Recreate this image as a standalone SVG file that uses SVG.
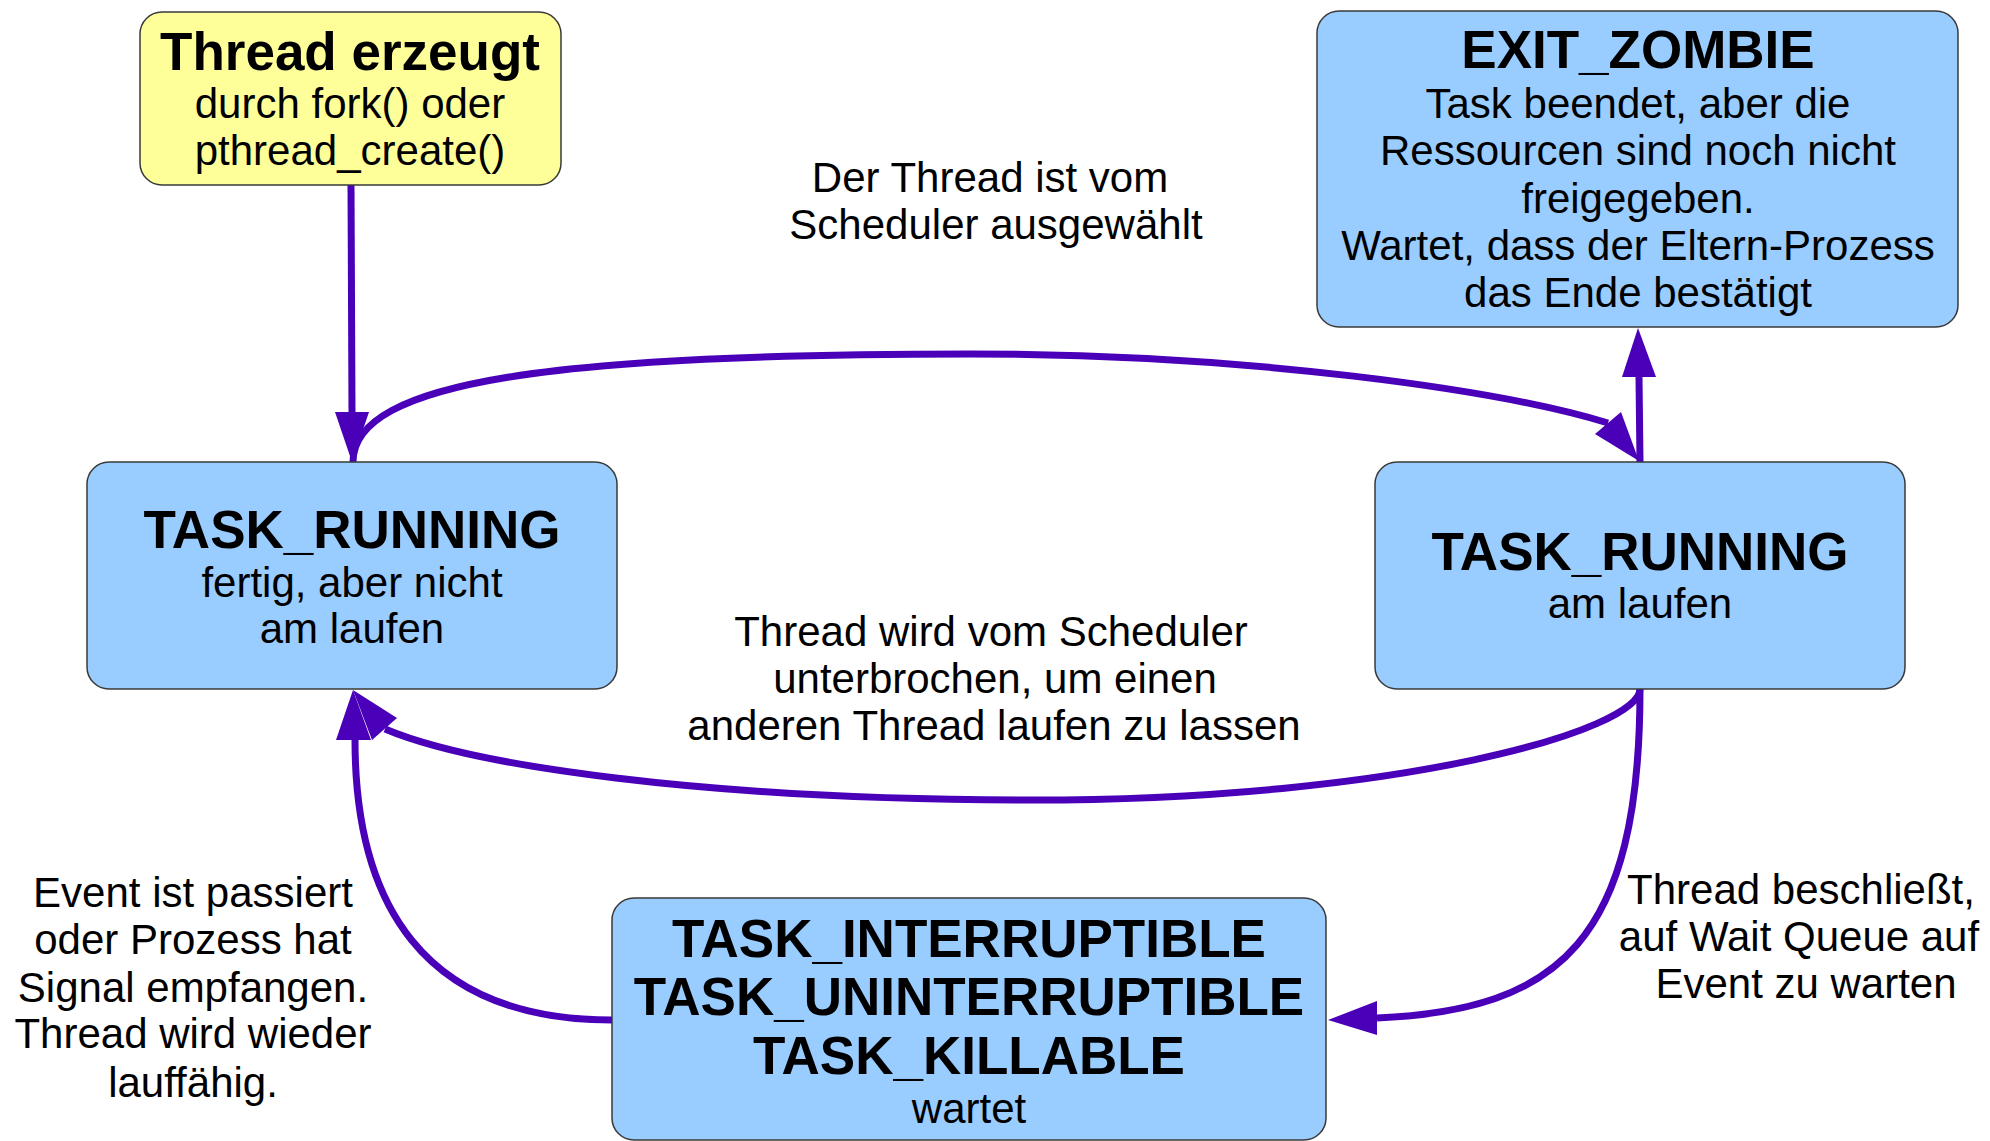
<svg xmlns="http://www.w3.org/2000/svg" width="1990" height="1141" viewBox="0 0 1990 1141">
<style>
.box{fill:#99ccff;stroke:#3a3a3a;stroke-width:1.5}
.yel{fill:#ffff99;stroke:#3a3a3a;stroke-width:1.5}
text{font-family:"Liberation Sans",Arial,sans-serif;fill:#000;text-anchor:middle}
.t{font-size:53px;font-weight:bold}
.r{font-size:42px}
.c{fill:none;stroke:#4a00b8;stroke-width:7}
.a{fill:#4a00b8;stroke:none}
</style>
<rect width="1990" height="1141" fill="#fff"/>
<g id="connectors">
<path class="c" d="M351 185 L352 412"/>
<polygon class="a" points="352,462 335,412 369,412"/>
<path class="c" d="M1640 462 L1639 377"/>
<polygon class="a" points="1638,328 1622,377 1656,377"/>
<path class="c" d="M353 462 C353 380 560 354 970 354 C1250 354 1500 390 1608 423"/>
<polygon class="a" points="1639,461 1621,412 1595,434"/>
<path class="c" d="M1640 689 C1640 730 1400 800 1032 800 C700 800 470 765 385 729"/>
<polygon class="a" points="353,690 397,718 372,740"/>
<path class="c" d="M1640 689 C1640 940 1560 1010 1377 1018"/>
<polygon class="a" points="1328,1020 1377,1001 1377,1035"/>
<path class="c" d="M612 1020 C420 1020 355 900 355 740"/>
<polygon class="a" points="353,690 336,740 371,740"/>
</g>
<g id="node-created">
<rect class="yel" x="140" y="12" width="421" height="173" rx="22"/>
<text class="t" x="350" y="70">Thread erzeugt</text>
<text class="r" x="350" y="118">durch fork() oder</text>
<text class="r" x="350" y="165">pthread_create()</text>
</g>
<g id="node-zombie">
<rect class="box" x="1317" y="11" width="641" height="316" rx="22"/>
<text class="t" x="1638" y="68">EXIT_ZOMBIE</text>
<text class="r" x="1638" y="118">Task beendet, aber die</text>
<text class="r" x="1638" y="165">Ressourcen sind noch nicht</text>
<text class="r" x="1638" y="213">freigegeben.</text>
<text class="r" x="1638" y="260">Wartet, dass der Eltern-Prozess</text>
<text class="r" x="1638" y="307">das Ende bestätigt</text>
</g>
<g id="node-ready">
<rect class="box" x="87" y="462" width="530" height="227" rx="22"/>
<text class="t" x="352" y="548">TASK_RUNNING</text>
<text class="r" x="352" y="597">fertig, aber nicht</text>
<text class="r" x="352" y="643">am laufen</text>
</g>
<g id="node-running">
<rect class="box" x="1375" y="462" width="530" height="227" rx="22"/>
<text class="t" x="1640" y="570">TASK_RUNNING</text>
<text class="r" x="1640" y="618">am laufen</text>
</g>
<g id="node-waiting">
<rect class="box" x="612" y="898" width="714" height="242" rx="22"/>
<text class="t" x="969" y="957">TASK_INTERRUPTIBLE</text>
<text class="t" x="969" y="1015">TASK_UNINTERRUPTIBLE</text>
<text class="t" x="969" y="1074">TASK_KILLABLE</text>
<text class="r" x="969" y="1123">wartet</text>
</g>
<g id="labels">
<text class="r" x="990" y="192">Der Thread ist vom</text>
<text class="r" x="996" y="239">Scheduler ausgewählt</text>
<text class="r" x="991" y="646">Thread wird vom Scheduler</text>
<text class="r" x="995" y="693">unterbrochen, um einen</text>
<text class="r" x="994" y="740">anderen Thread laufen zu lassen</text>
<text class="r" x="193" y="907">Event ist passiert</text>
<text class="r" x="193" y="954">oder Prozess hat</text>
<text class="r" x="193" y="1002">Signal empfangen.</text>
<text class="r" x="193" y="1048">Thread wird wieder</text>
<text class="r" x="193" y="1097">lauffähig.</text>
<text class="r" x="1801" y="904">Thread beschließt,</text>
<text class="r" x="1799" y="951">auf Wait Queue auf</text>
<text class="r" x="1806" y="998">Event zu warten</text>
</g>
</svg>
